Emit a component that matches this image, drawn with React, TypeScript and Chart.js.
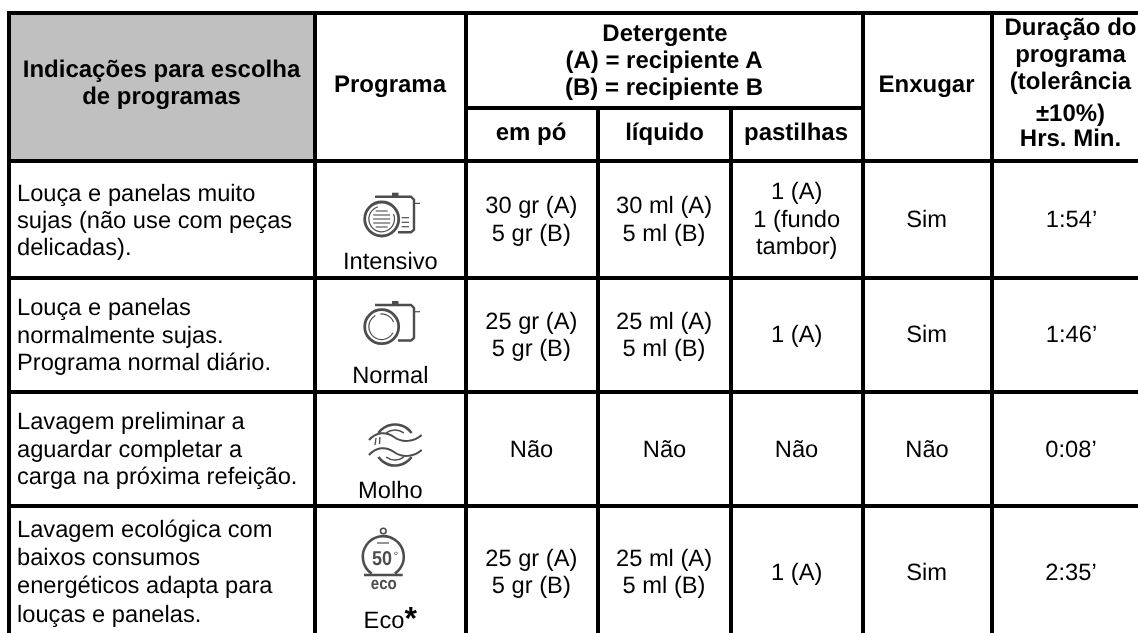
import React, { useEffect, useRef } from "react";
import { Chart, registerables } from "chart.js";

Chart.register(...registerables);

// Table structure (axis units = reference pixels)
const columnEdges = [9, 315, 466, 598, 731, 863, 992];
const rowEdges = [13, 108, 161, 278, 392, 506];
const tableBottom = 633;
const tableRight = 1138;

const headerFill = "#c0c0c0";
const ink = "#000000";

type Line = { t: string; x: number; y: number; a?: CanvasTextAlign };

const boldHeaderLines: Line[] = [
  { t: "Indicações para escolha", x: 161.5, y: 77 },
  { t: "de programas", x: 161.5, y: 104 },
  { t: "Programa", x: 390, y: 92 },
  { t: "Detergente", x: 665, y: 41 },
  { t: "(A) = recipiente A", x: 664, y: 68 },
  { t: "(B) = recipiente B", x: 664, y: 95 },
  { t: "em pó", x: 531, y: 140 },
  { t: "líquido", x: 664.5, y: 140 },
  { t: "pastilhas", x: 796, y: 140 },
  { t: "Enxugar", x: 926.5, y: 92 },
  { t: "Duração do", x: 1070.5, y: 35 },
  { t: "programa", x: 1070.5, y: 62 },
  { t: "(tolerância", x: 1070.5, y: 88.5 },
  { t: "±10%)", x: 1070.5, y: 121 },
  { t: "Hrs. Min.", x: 1070.5, y: 146 },
];

const descriptionLines: Line[] = [
  { t: "Louça e panelas muito", x: 17, y: 201, a: "left" },
  { t: "sujas (não use com peças", x: 17, y: 227.5, a: "left" },
  { t: "delicadas).", x: 17, y: 255, a: "left" },
  { t: "Louça e panelas", x: 17, y: 315, a: "left" },
  { t: "normalmente sujas.", x: 17, y: 343, a: "left" },
  { t: "Programa normal diário.", x: 17, y: 370, a: "left" },
  { t: "Lavagem preliminar a", x: 17, y: 428.5, a: "left" },
  { t: "aguardar completar a", x: 17, y: 456.5, a: "left" },
  { t: "carga na próxima refeição.", x: 17, y: 483.5, a: "left" },
  { t: "Lavagem ecológica com", x: 17, y: 537, a: "left" },
  { t: "baixos consumos", x: 17, y: 565, a: "left" },
  { t: "energéticos adapta para", x: 17, y: 593, a: "left" },
  { t: "louças e panelas.", x: 17, y: 622, a: "left" },
];

const programNames: Line[] = [
  { t: "Intensivo", x: 390.3, y: 269.3 },
  { t: "Normal", x: 390.3, y: 383.3 },
  { t: "Molho", x: 390.3, y: 498.3 },
  { t: "Eco", x: 384, y: 627.7 },
];

const cellLines: Line[] = [
  { t: "30 gr (A)", x: 531.3, y: 212.7 },
  { t: "5 gr (B)", x: 531.3, y: 240.7 },
  { t: "30 ml (A)", x: 664, y: 212.7 },
  { t: "5 ml (B)", x: 664, y: 240.7 },
  { t: "1 (A)", x: 796.7, y: 199 },
  { t: "1 (fundo", x: 796.7, y: 226.7 },
  { t: "tambor)", x: 796.7, y: 254 },
  { t: "Sim", x: 926.7, y: 226.7 },
  { t: "1:54’", x: 1071.5, y: 226.7 },
  { t: "25 gr (A)", x: 531.3, y: 329 },
  { t: "5 gr (B)", x: 531.3, y: 355.7 },
  { t: "25 ml (A)", x: 664, y: 329 },
  { t: "5 ml (B)", x: 664, y: 355.7 },
  { t: "1 (A)", x: 796.7, y: 342 },
  { t: "Sim", x: 926.7, y: 342 },
  { t: "1:46’", x: 1071.5, y: 342 },
  { t: "Não", x: 531.5, y: 456.7 },
  { t: "Não", x: 664.5, y: 456.7 },
  { t: "Não", x: 796.5, y: 456.7 },
  { t: "Não", x: 927, y: 456.7 },
  { t: "0:08’", x: 1071, y: 456.7 },
  { t: "25 gr (A)", x: 531.3, y: 565.7 },
  { t: "5 gr (B)", x: 531.3, y: 593 },
  { t: "25 ml (A)", x: 664, y: 565.7 },
  { t: "5 ml (B)", x: 664, y: 593 },
  { t: "1 (A)", x: 796.7, y: 580 },
  { t: "Sim", x: 926.7, y: 580 },
  { t: "2:35’", x: 1071, y: 580 },
];

const [c0, c1, c2, c3, c4, c5, c6] = columnEdges;
const [r0, r1, r2, r3, r4, r5] = rowEdges;
const gridSegments: { x: number; y: number }[][] = [
  [{ x: c0 - 2, y: r0 }, { x: tableRight, y: r0 }],
  [{ x: c2, y: r1 }, { x: c5, y: r1 }],
  [{ x: c0, y: r2 }, { x: tableRight, y: r2 }],
  [{ x: c0, y: r3 }, { x: tableRight, y: r3 }],
  [{ x: c0, y: r4 }, { x: tableRight, y: r4 }],
  [{ x: c0, y: r5 }, { x: tableRight, y: r5 }],
  ...[c0, c1, c2, c5, c6].map((x) => [{ x, y: r0 }, { x, y: tableBottom }]),
  ...[c3, c4].map((x) => [{ x, y: r1 }, { x, y: tableBottom }]),
];

function drawText(ctx: CanvasRenderingContext2D, sx: any, sy: any, lines: Line[], font: string) {
  ctx.font = font;
  ctx.textBaseline = "alphabetic";
  ctx.fillStyle = ink;
  for (const l of lines) {
    ctx.textAlign = l.a ?? "center";
    ctx.fillText(l.t, sx.getPixelForValue(l.x), sy.getPixelForValue(l.y));
  }
}

function drawIcons(ctx: CanvasRenderingContext2D) {
  const g = "#4d4d4d";
  ctx.strokeStyle = g;
  ctx.fillStyle = g;
  ctx.lineCap = "butt";
  const arc = (x: number, y: number, r: number, a = 0, b = Math.PI * 2, lw = 2) => {
    ctx.lineWidth = lw;
    ctx.beginPath();
    ctx.arc(x, y, r, a, b);
    ctx.stroke();
  };
  const seg = (pts: number[], lw = 2) => {
    ctx.lineWidth = lw;
    ctx.beginPath();
    ctx.moveTo(pts[0], pts[1]);
    for (let i = 2; i < pts.length; i += 2) ctx.lineTo(pts[i], pts[i + 1]);
    ctx.stroke();
  };
  const camera = (top: number) => {
    seg([375, top, 411, top, 414, top + 3, 414, top + 33, 411, top + 35.5, 398, top + 35.5], 2.4);
    ctx.fillRect(392, top - 4, 6.5, 4);
    seg([414, top + 6.7, 420, top + 6.7], 1.2);
  };
  // Intensivo
  camera(196.7);
  arc(381.7, 219, 17, 0, Math.PI * 2, 2.8);
  arc(381.7, 219, 12.8, -0.4, 4.4, 1.2);
  for (const [y, h] of [[211, 6], [215, 8.5], [219, 8.5], [223, 8.5], [227, 6]]) seg([381.7 - h, y, 381.7 + h, y], 1.1);
  for (const y of [217.7, 222.3, 226.7]) seg([401.7, y, 409, y], 1.2);
  // Normal
  camera(305);
  arc(381.7, 326.7, 17, 0, Math.PI * 2, 2.8);
  arc(381.7, 326.7, 12.8, 0.5, 4.2, 1.2);
  arc(381.7, 326.7, 12.8, 4.6, 5.9, 1.2);
  // Molho
  arc(395, 445, 20.5, Math.PI * 1.2, Math.PI * 1.8, 2.6);
  arc(395, 445, 20.5, Math.PI * 0.2, Math.PI * 0.8, 2.6);
  arc(395, 445, 15, Math.PI * 1.3, Math.PI * 1.7, 1.3);
  arc(395, 445, 15, Math.PI * 0.3, Math.PI * 0.7, 1.3);
  const wave = (y: number) => {
    ctx.lineWidth = 2;
    ctx.beginPath();
    ctx.moveTo(369, y);
    ctx.bezierCurveTo(376, y - 8, 386, y - 9, 394, y - 3);
    ctx.bezierCurveTo(402, y + 3, 414, y + 2, 421.7, y - 5);
    ctx.stroke();
  };
  wave(440);
  wave(455);
  seg([376, 438, 375, 445], 1.3);
  seg([380, 437, 379.5, 444], 1.3);
  // Eco
  arc(383.3, 556.7, 20.5, Math.PI / 2 + 0.6, Math.PI * 2.5 - 0.6, 2.6);
  arc(383.3, 531, 2.8, 0, Math.PI * 2, 1.6);
  seg([364, 575, 402.7, 575], 2.6);
  seg([377, 543, 389, 543], 1.2);
  ctx.textAlign = "center";
  ctx.textBaseline = "alphabetic";
  ctx.font = "bold 20px 'Liberation Sans Narrow', 'Liberation Sans'";
  ctx.fillText("50", 382, 565, 20);
  ctx.font = "12px 'Liberation Sans'";
  ctx.fillText("°", 396, 560);
  ctx.font = "bold 17px 'Liberation Sans Narrow', 'Liberation Sans'";
  ctx.fillText("eco", 383.8, 589, 26);
}

const tablePlugin = {
  id: "tablePlugin",
  beforeDatasetsDraw(chart: any) {
    const { ctx, scales } = chart;
    const sx = scales.x, sy = scales.y;
    ctx.save();
    ctx.fillStyle = "#ffffff";
    ctx.fillRect(0, 0, chart.width, chart.height);
    ctx.fillStyle = headerFill;
    ctx.fillRect(sx.getPixelForValue(c0), sy.getPixelForValue(r0), sx.getPixelForValue(c1) - sx.getPixelForValue(c0), sy.getPixelForValue(r2) - sy.getPixelForValue(r0));
    ctx.restore();
  },
  afterDatasetsDraw(chart: any) {
    const { ctx, scales } = chart;
    const sx = scales.x, sy = scales.y;
    ctx.save();
    (ctx as any).textRendering = "geometricPrecision";
    const bold = "bold 24px 'Liberation Sans'";
    const plain = "23.7px 'Liberation Sans'";
    drawText(ctx, sx, sy, boldHeaderLines, bold);
    drawText(ctx, sx, sy, descriptionLines, plain);
    drawText(ctx, sx, sy, programNames, plain);
    drawText(ctx, sx, sy, cellLines, plain);
    ctx.font = "bold 32px 'Liberation Sans'";
    ctx.textAlign = "left";
    ctx.fillText("*", 404.5, 628.5);
    drawIcons(ctx);
    ctx.restore();
  },
};

export default function App() {
  const ref = useRef<HTMLCanvasElement>(null);
  useEffect(() => {
    document.body.style.margin = "0";
    const chart = new Chart(ref.current!, {
      type: "line",
      data: {
        datasets: gridSegments.map((data) => ({
          data,
          borderColor: "#000000",
          borderWidth: 4,
          pointRadius: 0,
          borderCapStyle: "butt" as const,
        })),
      },
      options: {
        animation: false,
        responsive: false,
        parsing: false,
        layout: { padding: 0 },
        plugins: { legend: { display: false }, tooltip: { enabled: false } },
        scales: {
          x: { type: "linear", min: 0, max: 1138, display: false },
          y: { type: "linear", min: 0, max: 633, reverse: true, display: false },
        },
      },
      plugins: [tablePlugin],
    });
    return () => chart.destroy();
  }, []);
  return <canvas ref={ref} width={1138} height={633} style={{ display: "block" }} />;
}
